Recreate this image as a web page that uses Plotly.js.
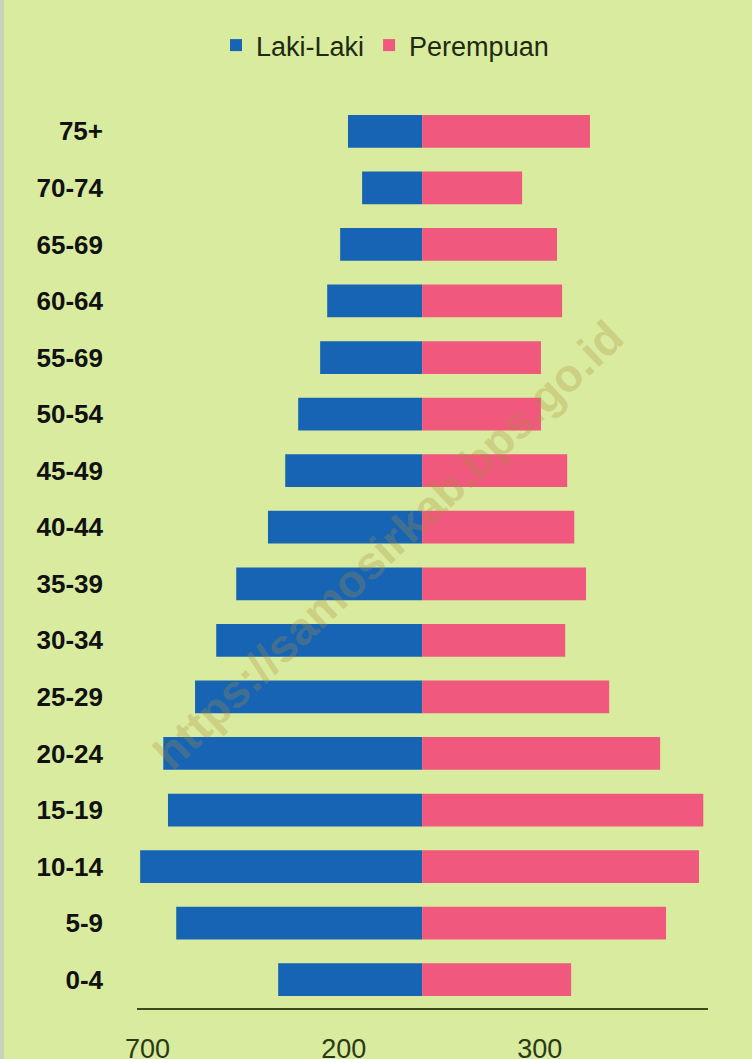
<!DOCTYPE html>
<html>
<head>
<meta charset="utf-8">
<script src="https://cdn.plot.ly/plotly-3.0.1.min.js"></script>
<style>
html,body{margin:0;padding:0;background:#d8eb9f;}
#chart{width:752px;height:1059px;}
</style>
</head>
<body>
<div id="chart"></div>
<script>
// Age groups, bottom to top
const ageGroups = ["0-4","5-9","10-14","15-19","20-24","25-29","30-34","35-39","40-44","45-49","50-54","55-69","60-64","65-69","70-74","75+"];
// Estimated values
const lakiLaki = [367, 627, 719, 648, 660, 579, 525, 474, 393, 349, 316, 260, 242, 209, 153, 189];
const perempuan = [380, 622, 706, 717, 607, 477, 365, 418, 388, 370, 303, 303, 357, 344, 255, 428];
const tickValues = [-700, -200, 300];
const tickLabels = ["700", "200", "300"];

const lakiNeg = lakiLaki.map(v => -v);

const traces = [
  {type:'bar', orientation:'h', name:'Laki-Laki', y:ageGroups, x:lakiNeg,
   marker:{color:'#1764b4', line:{width:0}}, hoverinfo:'skip'},
  {type:'bar', orientation:'h', name:'Perempuan', y:ageGroups, x:perempuan,
   marker:{color:'#f0587d', line:{width:0}}, hoverinfo:'skip'}
];

const layout = {
  width:752, height:1059,
  paper_bgcolor:'#d8eb9f', plot_bgcolor:'#d8eb9f',
  margin:{l:137, r:44, t:103, b:51},
  barmode:'relative', bargap:0.42,
  font:{family:'Liberation Sans, Arial, sans-serif', color:'#1a1a1a'},
  showlegend:true,
  legend:{orientation:'h', x:0.512, xref:'container', xanchor:'center', y:0.957, yref:'container', yanchor:'middle',
          font:{size:27, color:'#1e2a10'}, itemwidth:30, tracegroupgap:0, bgcolor:'rgba(0,0,0,0)'},
  xaxis:{range:[-727, 729], tickvals:tickValues, ticktext:tickLabels, showgrid:false, zeroline:false,
         showline:true, linecolor:'#3b4a1c', linewidth:2, ticks:'', ticklabelstandoff:16,
         tickfont:{size:27, color:'#2b3a12'}, fixedrange:true},
  yaxis:{type:'category', range:[-0.5, 15.5], showgrid:false, zeroline:false, showline:false, ticks:'',
         ticklabelstandoff:33, tickfont:{size:26, color:'#111', family:'Liberation Sans, Arial, sans-serif', weight:'bold'},
         fixedrange:true},
  annotations:[{
    text:'https://samosirkab.bps.go.id', xref:'paper', yref:'paper',
    x:(388-137)/571, y:1-(545-103)/905.6, showarrow:false, textangle:-43.5,
    font:{size:46, color:'rgba(175,140,60,0.3)', family:'Liberation Sans, Arial, sans-serif', weight:'bold'}
  }],
  shapes:[{type:'rect', xref:'paper', yref:'paper', x0:-137/571, x1:-133/571, y0:-51/905.6, y1:1+103/905.6,
           fillcolor:'#c9d2bd', line:{width:0}}]
};

Plotly.newPlot('chart', traces, layout, {displayModeBar:false, staticPlot:true});
</script>
</body>
</html>
